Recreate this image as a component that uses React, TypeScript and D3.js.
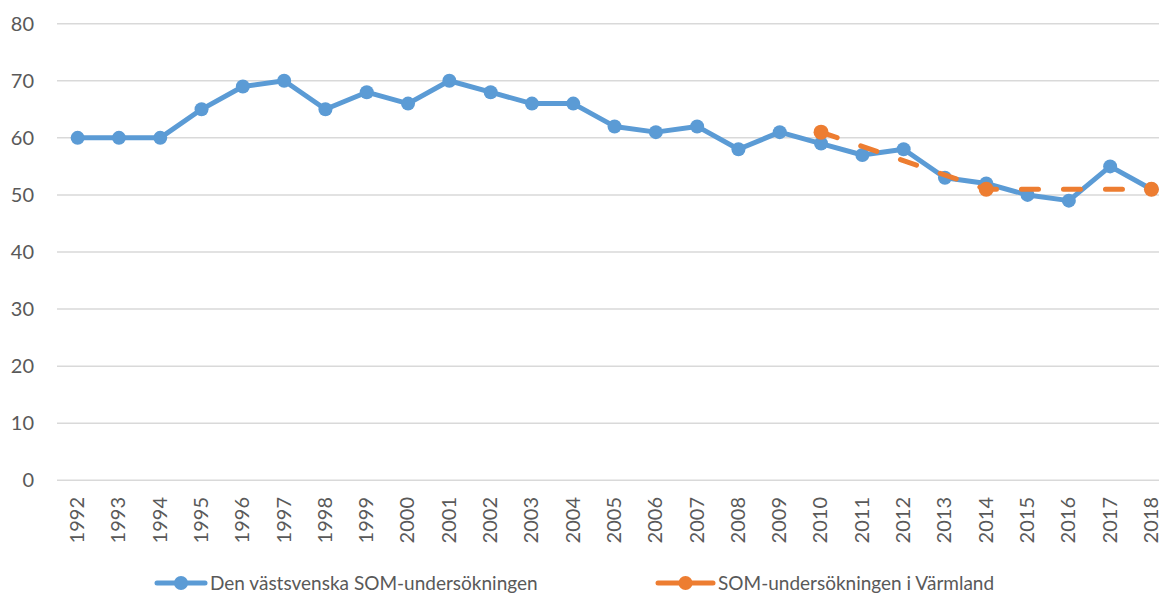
import React, { useEffect, useRef } from 'react';
import * as d3 from 'd3';

const years = ['1992', '1993', '1994', '1995', '1996', '1997', '1998', '1999', '2000', '2001', '2002', '2003', '2004', '2005', '2006', '2007', '2008', '2009', '2010', '2011', '2012', '2013', '2014', '2015', '2016', '2017', '2018'];
const vastValues = [60, 60, 60, 65, 69, 70, 65, 68, 66, 70, 68, 66, 66, 62, 61, 62, 58, 61, 59, 57, 58, 53, 52, 50, 49, 55, 51];
// Värmland: only measured some years, gaps are spanned
const varmlandValues: (number | null)[] = [null, null, null, null, null, null, null, null, null, null, null, null, null, null, null, null, null, null, 61, null, null, null, 51, null, null, null, 51];
const yTicks = [0, 10, 20, 30, 40, 50, 60, 70, 80];
const seriesNames = ['Den västsvenska SOM-undersökningen', 'SOM-undersökningen i Värmland'];

const W = 1159;
const H = 594;
const blue = '#5B9BD5';
const orange = '#ED7D31';
const textColor = '#595959';
const font = 'Lato, "Open Sans", sans-serif';

export default function App() {
  const ref = useRef<SVGSVGElement>(null);

  useEffect(() => {
    document.body.style.margin = '0';
    const svg = d3.select(ref.current);
    svg.selectAll('*').remove();

    const left = 57;
    const step = 41.3;
    const x = d3.scaleBand<string>()
      .domain(years)
      .range([left, left + step * years.length]);
    const y = d3.scaleLinear().domain([0, 80]).range([480.3, 23.7]);
    const cx = (d: string) => (x(d) as number) + x.bandwidth() / 2;

    // grid
    svg.append('g').selectAll('line').data(yTicks).enter()
      .append('line')
      .attr('x1', left).attr('x2', W)
      .attr('y1', d => y(d)).attr('y2', d => y(d))
      .attr('stroke', '#d9d9d9').attr('stroke-width', 1.5);

    // y labels
    svg.append('g').selectAll('text').data(yTicks).enter()
      .append('text')
      .attr('x', 34).attr('y', d => y(d))
      .attr('dy', '0.35em')
      .attr('text-anchor', 'end')
      .attr('font-family', font).attr('font-size', 20)
      .attr('fill', textColor)
      .text(d => d);

    // x labels
    svg.append('g').selectAll('text').data(years).enter()
      .append('text')
      .attr('transform', d => `translate(${cx(d)},497) rotate(-90)`)
      .attr('dy', '0.32em')
      .attr('text-anchor', 'end')
      .attr('font-family', font).attr('font-size', 20)
      .attr('fill', textColor)
      .text(d => d);

    // blue series
    const line = d3.line<number>().x((d, i) => cx(years[i])).y(d => y(d));
    svg.append('path')
      .attr('d', line(vastValues))
      .attr('fill', 'none').attr('stroke', blue)
      .attr('stroke-width', 5).attr('stroke-linejoin', 'round');
    svg.append('g').selectAll('circle').data(vastValues).enter()
      .append('circle')
      .attr('cx', (d, i) => cx(years[i])).attr('cy', d => y(d))
      .attr('r', 7).attr('fill', blue);

    // orange series
    const pts = varmlandValues
      .map((v, i) => ({ year: years[i], v }))
      .filter(p => p.v !== null) as { year: string; v: number }[];
    const line2 = d3.line<{ year: string; v: number }>().x(d => cx(d.year)).y(d => y(d.v));
    svg.append('path')
      .attr('d', line2(pts))
      .attr('fill', 'none').attr('stroke', orange)
      .attr('stroke-width', 5).attr('stroke-linecap', 'round')
      .attr('stroke-dasharray', '17 25');
    svg.append('g').selectAll('circle').data(pts).enter()
      .append('circle')
      .attr('cx', d => cx(d.year)).attr('cy', d => y(d.v))
      .attr('r', 7.5).attr('fill', orange);

    // legend
    const legendItems = [
      { name: seriesNames[0], color: blue, x0: 157, len: 48 },
      { name: seriesNames[1], color: orange, x0: 658, len: 55 },
    ];
    const lg = svg.append('g').selectAll('g').data(legendItems).enter().append('g');
    lg.append('line')
      .attr('x1', d => d.x0).attr('x2', d => d.x0 + d.len)
      .attr('y1', 583).attr('y2', 583)
      .attr('stroke', d => d.color).attr('stroke-width', 5).attr('stroke-linecap', 'round');
    lg.append('circle')
      .attr('cx', d => d.x0 + d.len / 2).attr('cy', 583).attr('r', 7).attr('fill', d => d.color);
    lg.append('text')
      .attr('x', d => d.x0 + d.len + 5).attr('y', 590)
      .attr('font-family', font).attr('font-size', 19)
      .attr('fill', textColor)
      .text(d => d.name);
  }, []);

  return (
    <svg ref={ref} width={W} height={H} style={{ display: 'block', background: '#fff' }} />
  );
}
